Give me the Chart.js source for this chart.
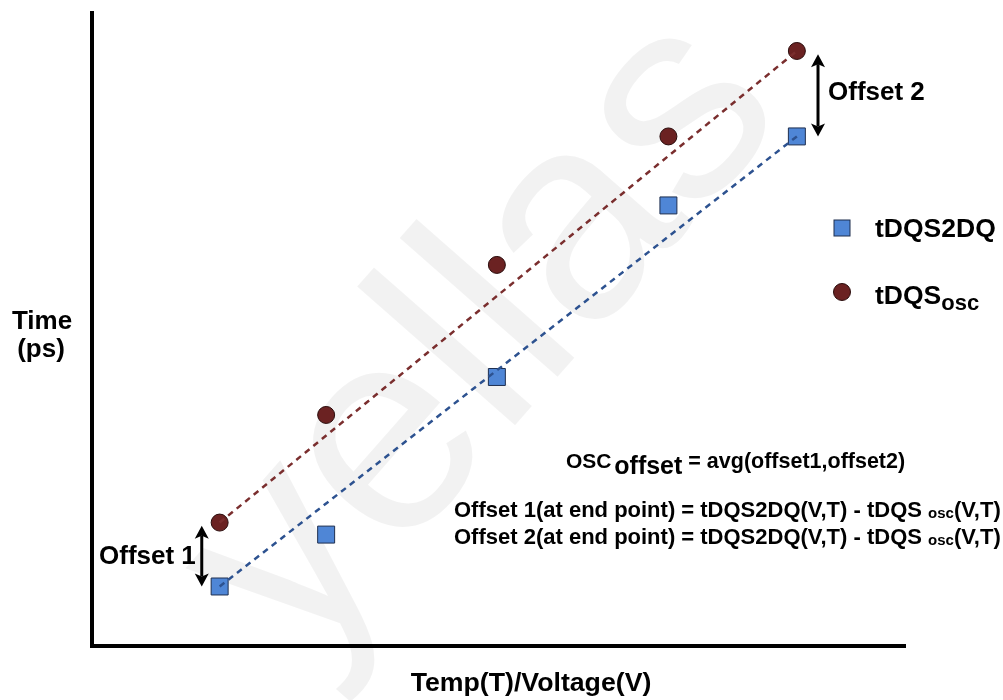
<!DOCTYPE html>
<html>
<head>
<meta charset="utf-8">
<script src="https://cdn.jsdelivr.net/npm/chart.js@4"></script>
<style>
  html, body { margin: 0; padding: 0; background: #fff; }
  #wrap { width: 1003px; height: 700px; position: relative; }
</style>
</head>
<body>
<div id="wrap"><canvas id="chart"></canvas></div>
<script>
// sample positions along the Temp/Voltage axis (arbitrary units)
const sweepX = [15.7, 28.8, 49.8, 70.9, 86.7];
// measured times (arbitrary units)
const tDQS2DQ = [9.4, 17.6, 42.5, 69.6, 80.5];
const tDQSosc = [19.5, 36.5, 60.2, 80.5, 94.0];
// offset arrows: x position and the two ends
const offset1 = { x: 13.5, from: 19.0, to: 9.4 };
const offset2 = { x: 89.3, from: 93.5, to: 80.5 };

const FONT = '"Liberation Sans", Arial, sans-serif';

function pts(xs, ys) {
    return xs.map((x, i) => ({ x: x, y: ys[i] }));
}
function endLine(xs, ys) {
    const n = xs.length - 1;
    return [{ x: xs[0], y: ys[0] }, { x: xs[n], y: ys[n] }];
}

function drawArrow(ctx, x, y1, y2) {
    const h = 10, w = 7;
    ctx.save();
    ctx.strokeStyle = '#000';
    ctx.fillStyle = '#000';
    ctx.lineWidth = 3;
    ctx.beginPath();
    ctx.moveTo(x, y1 + h);
    ctx.lineTo(x, y2 - h);
    ctx.stroke();
    ctx.beginPath();
    ctx.moveTo(x, y1);
    ctx.lineTo(x - w, y1 + h + 3);
    ctx.lineTo(x, y1 + h);
    ctx.lineTo(x + w, y1 + h + 3);
    ctx.closePath();
    ctx.fill();
    ctx.beginPath();
    ctx.moveTo(x, y2);
    ctx.lineTo(x - w, y2 - h - 3);
    ctx.lineTo(x, y2 - h);
    ctx.lineTo(x + w, y2 - h - 3);
    ctx.closePath();
    ctx.fill();
    ctx.restore();
}

// text with subscript pieces: [[text, size, dy], ...]
function richText(ctx, x, y, parts) {
    let cx = x;
    parts.forEach(p => {
        ctx.font = 'bold ' + p[1] + 'px ' + FONT;
        ctx.fillText(p[0], cx, y + (p[2] || 0));
        cx += ctx.measureText(p[0]).width;
    });
}

const watermark = {
    id: 'watermark',
    beforeDatasetsDraw(chart) {
        const ctx = chart.ctx;
        ctx.save();
        ctx.translate(300, 670);
        ctx.rotate(-0.85);
        ctx.fillStyle = 'rgba(0,0,0,0.05)';
        ctx.font = '290px ' + FONT;
        ctx.textBaseline = 'alphabetic';
        ctx.fillText('yellas', 0, 0);
        ctx.restore();
    }
};

const annotations = {
    id: 'annotations',
    afterDraw(chart) {
        const ctx = chart.ctx;
        const xs = chart.scales.x, ys = chart.scales.y;
        drawArrow(ctx, xs.getPixelForValue(offset1.x), ys.getPixelForValue(offset1.from), ys.getPixelForValue(offset1.to));
        drawArrow(ctx, xs.getPixelForValue(offset2.x), ys.getPixelForValue(offset2.from), ys.getPixelForValue(offset2.to));

        ctx.save();
        ctx.fillStyle = '#000';
        ctx.textBaseline = 'middle';
        ctx.textAlign = 'left';
        ctx.font = 'bold 26px ' + FONT;
        ctx.fillText('Offset 1', 99, 557);
        ctx.fillText('Offset 2', 828, 93);

        // legend
        ctx.fillStyle = '#4f86d6';
        ctx.strokeStyle = '#1f2f4f';
        ctx.lineWidth = 1;
        ctx.fillRect(834, 220, 16, 16);
        ctx.strokeRect(834, 220, 16, 16);
        ctx.fillStyle = '#6b2222';
        ctx.strokeStyle = '#2a0c0c';
        ctx.beginPath();
        ctx.arc(842, 292, 8.5, 0, Math.PI * 2);
        ctx.fill();
        ctx.stroke();
        ctx.fillStyle = '#000';
        ctx.font = 'bold 26.5px ' + FONT;
        ctx.fillText('tDQS2DQ', 875, 230);
        richText(ctx, 875, 297, [['tDQS', 26.5, 0], ['osc', 22, 7]]);

        // formulas
        richText(ctx, 566, 462, [['OSC', 21, 0], [' ', 10, 0], ['offset', 25, 5], [' = avg(offset1,offset2)', 21.5, 0]]);
        richText(ctx, 454, 511, [['Offset 1(at end point) = tDQS2DQ(V,T) - tDQS ', 22, 0], ['osc', 15, 3], ['(V,T)', 22, 0]]);
        richText(ctx, 454, 538, [['Offset 2(at end point) = tDQS2DQ(V,T) - tDQS ', 22, 0], ['osc', 15, 3], ['(V,T)', 22, 0]]);

        // axis titles
        ctx.textAlign = 'center';
        ctx.font = 'bold 26px ' + FONT;
        ctx.fillText('Time', 42, 322);
        ctx.fillText('(ps)', 41, 350);
        ctx.font = 'bold 26.7px ' + FONT;
        ctx.fillText('Temp(T)/Voltage(V)', 531, 684);
        ctx.restore();
    }
};

const ctx = document.getElementById('chart').getContext('2d');
const chart = new Chart(ctx, {
    type: 'scatter',
    data: {
        datasets: [{
            label: 'tDQSosc trend',
            data: endLine(sweepX, tDQSosc),
            showLine: true,
            borderColor: '#7a2e2e',
            borderWidth: 2.5,
            borderDash: [6, 5],
            pointRadius: 0,
        }, {
            label: 'tDQS2DQ trend',
            data: endLine(sweepX, tDQS2DQ),
            showLine: true,
            borderColor: '#2d5290',
            borderWidth: 2.5,
            borderDash: [6, 5],
            pointRadius: 0,
        }, {
            label: 'tDQSosc',
            data: pts(sweepX, tDQSosc),
            pointStyle: 'circle',
            pointRadius: 8.5,
            backgroundColor: '#6b2222',
            borderColor: '#2a0c0c',
            borderWidth: 1,
        }, {
            label: 'tDQS2DQ',
            data: pts(sweepX, tDQS2DQ),
            pointStyle: 'rect',
            pointRadius: 12,
            backgroundColor: '#4f86d6',
            borderColor: '#1f2f4f',
            borderWidth: 1,
        }],
    },
    options: {
        responsive: true,
        maintainAspectRatio: false,
        animation: false,
        layout: {
            padding: { left: 84, top: 10, right: 98, bottom: 46 },
        },
        plugins: {
            legend: { display: false },
            tooltip: { enabled: false },
        },
        scales: {
            x: {
                type: 'linear',
                min: 0,
                max: 100,
                grid: { display: false },
                ticks: { display: false },
                border: { color: '#000', width: 4 },
            },
            y: {
                type: 'linear',
                min: 0,
                max: 100,
                grid: { display: false },
                ticks: { display: false },
                border: { color: '#000', width: 4 },
            },
        },
    },
    plugins: [watermark, annotations],
});
</script>
</body>
</html>
